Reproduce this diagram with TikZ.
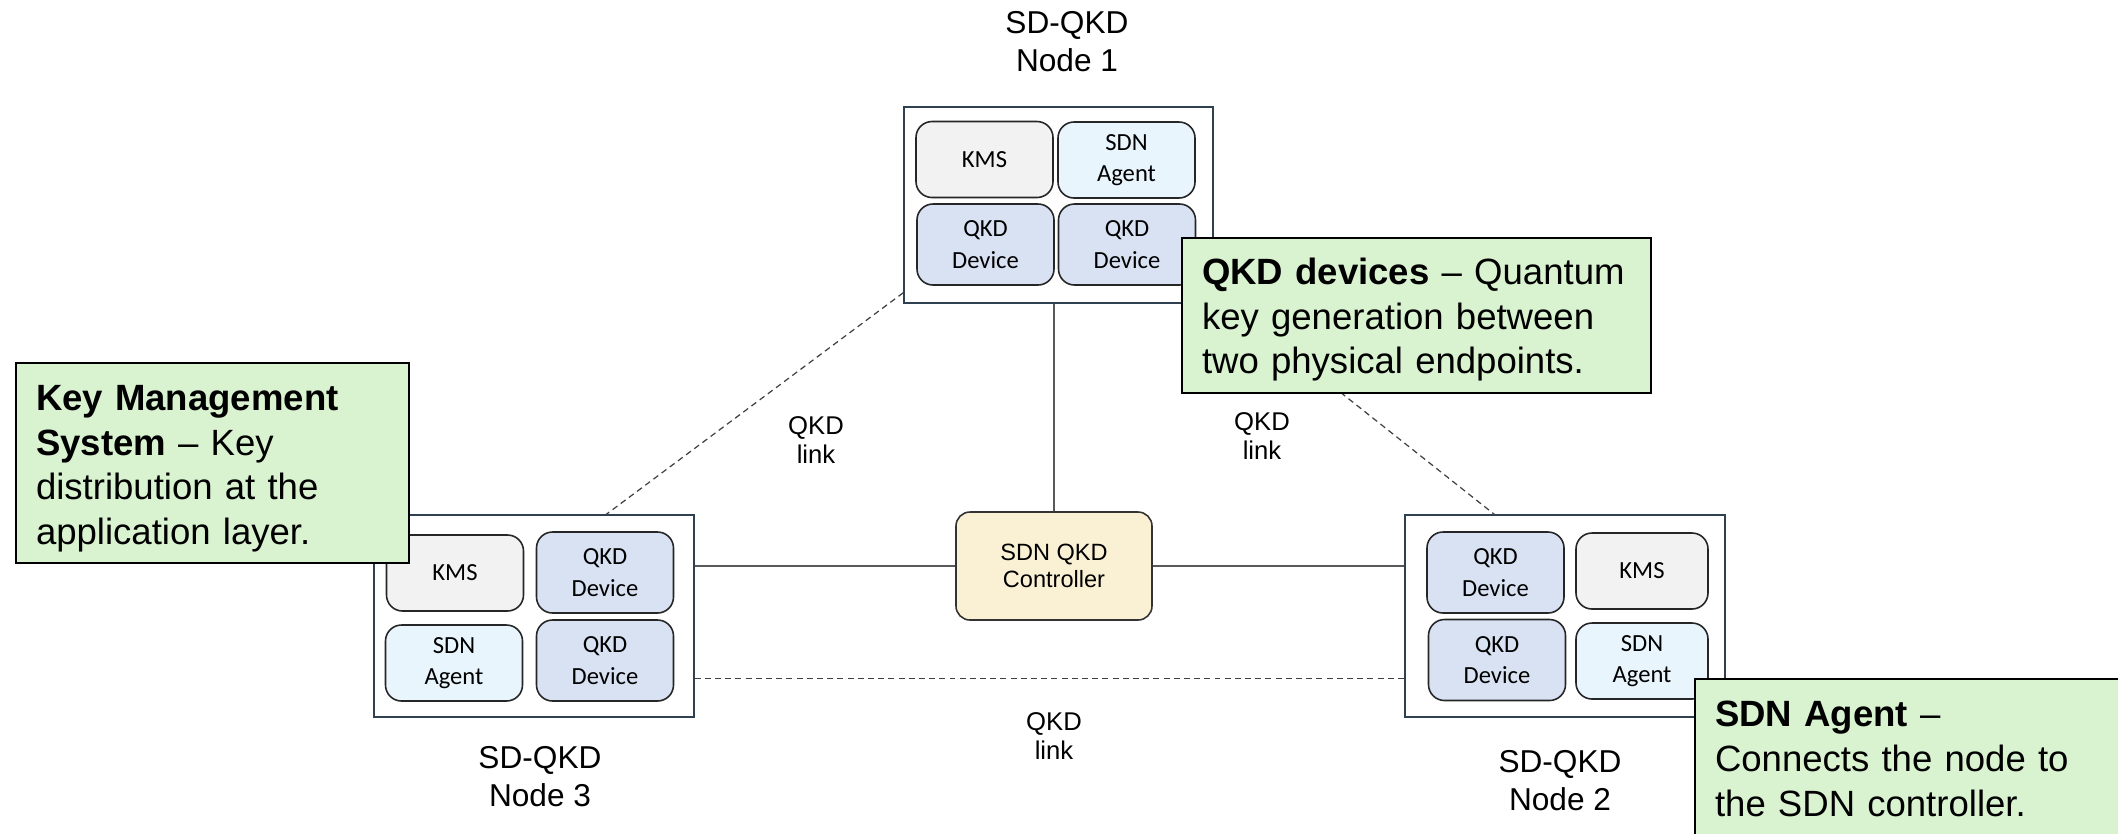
\documentclass[tikz,border=0pt]{standalone}
\usepackage{fontspec}
\setmainfont{Liberation Sans}
\newfontfamily\calfont{Carlito}
\usepackage{xcolor}
\usepackage{tikz}
\usetikzlibrary{positioning, calc}

\definecolor{framecol}{RGB}{47,64,80}
\definecolor{kmsfill}{HTML}{F2F2F2}
\definecolor{agentfill}{HTML}{E8F5FC}
\definecolor{qkdfill}{HTML}{D9E2F3}
\definecolor{ctrlfill}{HTML}{FAF0D4}
\definecolor{notefill}{HTML}{D9F2D0}

\newcommand{\notestrut}[1]{\rule{0pt}{#1}}

\begin{document}
\begin{tikzpicture}[
    nodebox/.style={rectangle, draw=framecol, fill=white, line width=0.4pt, minimum width=3.2cm, minimum height=2.02cm},
    part/.style={rectangle, draw=black!85, rounded corners=1.6mm, line width=0.45pt, minimum width=1.37cm, minimum height=0.76cm, inner sep=0pt, align=center, font=\calfont\fontsize{7}{9}\selectfont},
    kms/.style={part, fill=kmsfill},
    agent/.style={part, fill=agentfill},
    qkd/.style={part, fill=qkdfill, minimum height=0.81cm},
    ctrl/.style={rectangle, draw=black!80, fill=ctrlfill, rounded corners=1.4mm, line width=0.45pt, minimum width=1.96cm, minimum height=1.08cm, align=center, font=\fontsize{6.7}{7.7}\selectfont},
    title/.style={align=center, font=\fontsize{9}{10.8}\selectfont},
    linklabel/.style={align=center, font=\fontsize{7.3}{8.5}\selectfont},
    note/.style={rectangle, draw=black, fill=notefill, line width=0.6pt, inner xsep=2mm, inner ysep=0pt, align=left, font=\fontsize{10.4}{12.7}\selectfont},
    ctlline/.style={draw=black!65, line width=0.4pt},
    qlink/.style={draw=black!75, line width=0.35pt, dash pattern=on 1.7pt off 1.2pt}
]
    \useasboundingbox (0,0) rectangle (21.18,-8.33);
    \clip (0,0) rectangle (21.18,-8.33);

    \node[nodebox, minimum width=3.09cm, minimum height=1.96cm] (n1) at (10.585,-2.05) {};
    \node[kms] (n1kms) at (9.845,-1.595) {KMS};
    \node[agent] (n1agent) at (11.265,-1.60) {SDN\\Agent};
    \node[qkd] (n1qkda) at (9.855,-2.445) {QKD\\Device};
    \node[qkd] (n1qkdb) at (11.27,-2.445) {QKD\\Device};
    \node[title] (t1) at (10.67,-0.42) {SD-QKD\\Node 1};

    \node[nodebox] (n3) at (5.34,-6.16) {};
    \node[kms] (n3kms) at (4.55,-5.73) {KMS};
    \node[qkd] (n3qkda) at (6.05,-5.725) {QKD\\Device};
    \node[agent] (n3agent) at (4.54,-6.63) {SDN\\Agent};
    \node[qkd] (n3qkdb) at (6.05,-6.605) {QKD\\Device};
    \node[title] (t3) at (5.40,-7.77) {SD-QKD\\Node 3};

    \node[nodebox] (n2) at (15.65,-6.16) {};
    \node[qkd] (n2qkda) at (14.955,-5.725) {QKD\\Device};
    \node[kms, minimum width=1.32cm] (n2kms) at (16.42,-5.71) {KMS};
    \node[qkd] (n2qkdb) at (14.97,-6.60) {QKD\\Device};
    \node[agent, minimum width=1.32cm] (n2agent) at (16.42,-6.61) {SDN\\Agent};
    \node[title] (t2) at (15.60,-7.81) {SD-QKD\\Node 2};

    \node[ctrl] (ctrl) at (10.54,-5.66) {SDN QKD\\Controller};

    \draw[ctlline] (ctrl.west) -- (ctrl.west -| n3.east);
    \draw[ctlline] (ctrl.east) -- (ctrl.east -| n2.west);
    \draw[ctlline] (ctrl.north) -- (ctrl.north |- n1.south);

    \draw[qlink] ([yshift=1.1mm]n1.south west) -- ($(n3.north west)!0.725!(n3.north east)$);
    \draw[qlink] ([xshift=1.5mm]n1.south east) -- ($(n2.north west)!0.28!(n2.north east)$);
    \draw[qlink] ([yshift=3.9mm]n3.south east) -- ([yshift=3.9mm]n2.south west);

    \node[linklabel] (l13) at (8.16,-4.40) {QKD\\link};
    \node[linklabel] (l12) at (12.62,-4.36) {QKD\\link};
    \node[linklabel] (l32) at (10.54,-7.36) {QKD\\link};

    \node[note, text width=3.53cm, minimum height=2.0cm] (notekms) at (2.125,-4.63)
        {\notestrut{10.4pt}\textbf{Key Management}\\\textbf{System} – Key\\distribution at the\\application layer.};
    \node[note, text width=4.29cm, minimum height=1.55cm] (noteqkd) at (14.165,-3.155)
        {\notestrut{9.9pt}\textbf{QKD devices} – Quantum\\key generation between\\two physical endpoints.};
    \node[note, text width=3.95cm, minimum height=1.6cm] (noteagent) at (19.125,-7.59)
        {\textbf{SDN Agent} –\\Connects the node to\\the SDN controller.};
\end{tikzpicture}
\end{document}
